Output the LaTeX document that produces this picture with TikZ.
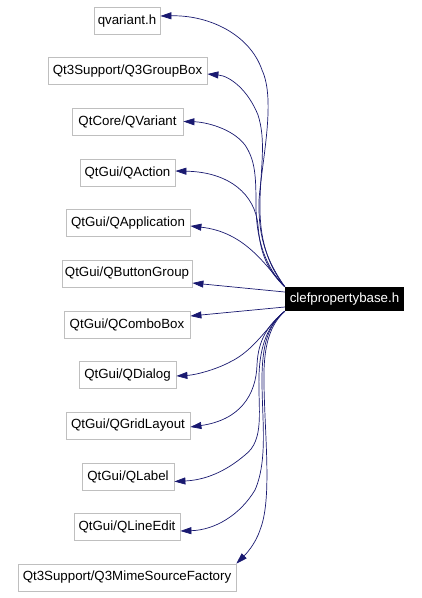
\documentclass[tikz,border=0pt]{standalone}
\usepackage{fontspec}
\setmainfont{Liberation Sans}
\usetikzlibrary{arrows.meta}
\definecolor{edgeblue}{HTML}{191970}
\definecolor{boxgray}{HTML}{BFBFBF}
\begin{document}
\begin{tikzpicture}[x=1pt,y=-1pt,
  every node/.style={font=\fontsize{13.3}{16}\selectfont},
  filebox/.style={draw=boxgray,line width=0.8pt,rectangle,inner sep=0pt,minimum height=27pt},
  srcbox/.style={fill=black,text=white,rectangle,inner sep=0pt,minimum height=24pt,minimum width=119pt},
  dep/.style={draw=edgeblue,line width=0.7pt,-{Triangle[length=11pt,width=7pt]}}]
\useasboundingbox (0,0) rectangle (422,598);
\node[srcbox] (src) at (344.5,299) {clefpropertybase.h};
\node[filebox,minimum width=66pt] (qv) at (127,21) {qvariant.h};
\node[filebox,minimum width=159pt] (gb) at (127.5,71) {Qt3Support/Q3GroupBox};
\node[filebox,minimum width=111pt] (qvar) at (127.5,121.5) {QtCore/QVariant};
\node[filebox,minimum width=95pt] (act) at (127.5,172.5) {QtGui/QAction};
\node[filebox,minimum width=124pt] (app) at (128,223) {QtGui/QApplication};
\node[filebox,minimum width=130pt] (bg) at (127,273.5) {QtGui/QButtonGroup};
\node[filebox,minimum width=126pt] (cb) at (127,324.5) {QtGui/QComboBox};
\node[filebox,minimum width=97pt] (dlg) at (127.5,375) {QtGui/QDialog};
\node[filebox,minimum width=124pt] (gl) at (128,425.5) {QtGui/QGridLayout};
\node[filebox,minimum width=92pt] (lbl) at (128,476.5) {QtGui/QLabel};
\node[filebox,minimum width=106pt] (le) at (127,527) {QtGui/QLineEdit};
\node[filebox,minimum width=218pt] (mime) at (127,577.5) {Qt3Support/Q3MimeSourceFactory};
% upward edges
\draw[dep] (src.north west) .. controls (268,262) and (258,240) .. (259,200)
  .. controls (262,160) and (276,100) .. (262,70)
  .. controls (250,35) and (210,15) .. ([yshift=5pt]qv.east);
\draw[dep] (src.north west) .. controls (268,265) and (259,240) .. (260,200)
  .. controls (261,165) and (266,140) .. (258,115)
  .. controls (248,90) and (230,76) .. ([yshift=-3pt]gb.east);
\draw[dep] (src.north west) .. controls (266,268) and (256,240) .. (256,205)
  .. controls (256,175) and (255,160) .. (245,145)
  .. controls (232,128) and (205,122) .. (qvar.east);
\draw[dep] (src.north west) .. controls (265,268) and (260,250) .. (258,225)
  .. controls (255,195) and (230,172) .. ([yshift=1.5pt]act.east);
\draw[dep] (src.north west) .. controls (265,265) and (245,232) .. ([yshift=-3pt]app.east);
% straight edges
\draw[dep] ([yshift=7pt]src.west) -- ([yshift=-9.5pt]bg.east);
\draw[dep] ([yshift=-8pt]src.west) -- ([yshift=8.5pt]cb.east);
% downward edges
\draw[dep] (src.south west) .. controls (268,325) and (255,350) .. (230,362)
  .. controls (215,370) and (195,375) .. ([yshift=-1pt]dlg.east);
\draw[dep] (src.south west) .. controls (268,325) and (258,340) .. (257,365)
  .. controls (256,395) and (240,420) .. ([yshift=-1.5pt]gl.east);
\draw[dep] (src.south west) .. controls (268,325) and (260,345) .. (259,375)
  .. controls (258,410) and (265,440) .. (245,455)
  .. controls (225,472) and (205,480) .. ([yshift=-5pt]lbl.east);
\draw[dep] (src.south west) .. controls (268,325) and (262,345) .. (262,380)
  .. controls (262,420) and (268,460) .. (255,490)
  .. controls (240,515) and (215,530) .. ([yshift=-4pt]le.east);
\draw[dep] (src.south west) .. controls (270,325) and (263,345) .. (264,385)
  .. controls (265,440) and (272,500) .. (260,530)
  .. controls (255,545) and (245,555) .. (mime.north east);
\end{tikzpicture}
\end{document}
